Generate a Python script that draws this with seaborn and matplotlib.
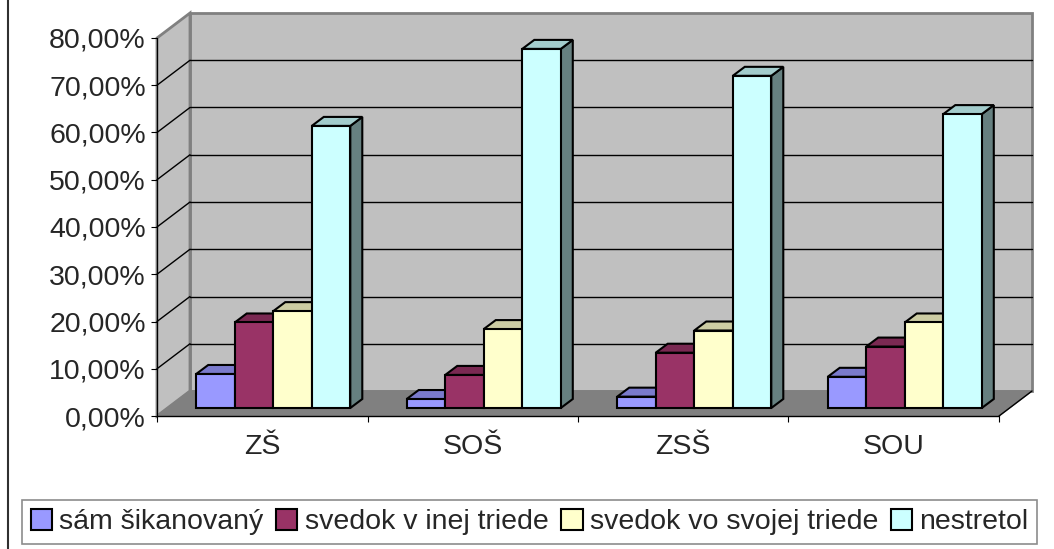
import numpy as np
import pandas as pd
import matplotlib
matplotlib.use("Agg")
import matplotlib.pyplot as plt
import seaborn as sns
from matplotlib.patches import Polygon
from matplotlib.lines import Line2D
from matplotlib.colors import to_rgb

# data (percent)
categories = ["ZŠ", "SOŠ", "ZSŠ", "SOU"]
series = ["sám šikanovaný", "svedok v inej triede", "svedok vo svojej triede", "nestretol"]
sam_sikanovany = [7.2, 1.9, 2.4, 6.6]
svedok_ina = [18.1, 7.0, 11.7, 13.0]
svedok_svoja = [20.5, 16.7, 16.4, 18.1]
nestretol = [59.7, 76.0, 70.3, 62.2]
y_ticks = [0, 10, 20, 30, 40, 50, 60, 70, 80]

colors = ["#9999FF", "#993366", "#FFFFCC", "#CCFFFF"]

df = pd.DataFrame({
    "skola": categories * 4,
    "skupina": np.repeat(series, len(categories)),
    "podiel": sam_sikanovany + svedok_ina + svedok_svoja + nestretol,
})

sns.set_style("white")
plt.rcParams["font.family"] = ["Liberation Sans", "DejaVu Sans"]

W, H = 1054, 549
fig = plt.figure(figsize=(W / 100, H / 100), dpi=100)
# front plane of the 3D box in pixels
x0, x1, y0, y1 = 157, 999, 416, 38
ax = fig.add_axes([x0 / W, (H - y0) / H, (x1 - x0) / W, (y0 - y1) / H])
ax.set_facecolor("none")

ax = sns.barplot(data=df, x="skola", y="podiel", hue="skupina", hue_order=series,
                 order=categories, palette=colors, width=0.732, edgecolor="black",
                 linewidth=1.5, saturation=1, ax=ax, zorder=3)
ax.set_xlim(-0.5, 3.5)
ax.set_ylim(0, 80)

px_x = (x1 - x0) / 4.0        # pixels per category unit
px_y = (y0 - y1) / 80.0       # pixels per percent
Dx, Dy = 33 / px_x, 25 / px_y  # depth of the box
sx, sy = 11 / px_x, 8 / px_y   # bars sit a bit back from front
bdx, bdy = 12 / px_x, 9 / px_y # depth of one bar

bars = list(ax.patches)
for i, p in enumerate(bars):
    p.set_x(p.get_x() + sx)
    p.set_y(p.get_y() + sy)
    p.set_zorder(3)

# 3D faces, drawn left to right so nearer tops cover neighbours' sides
order = sorted(range(len(bars)), key=lambda k: bars[k].get_x())
for k in order:
    p = bars[k]
    c = np.array(to_rgb(p.get_facecolor()))
    x, y, w, h = p.get_x(), p.get_y(), p.get_width(), p.get_height()
    side = Polygon([(x + w, y), (x + w + bdx, y + bdy), (x + w + bdx, y + h + bdy), (x + w, y + h)],
                   closed=True, facecolor=c * 0.5, edgecolor="black", lw=1.5, zorder=2.5, clip_on=False)
    top = Polygon([(x, y + h), (x + w, y + h), (x + w + bdx, y + h + bdy), (x + bdx, y + h + bdy)],
                  closed=True, facecolor=c * 0.8, edgecolor="black", lw=1.5, zorder=2.5, clip_on=False)
    ax.add_patch(side)
    ax.add_patch(top)

# walls and floor
L, R = -0.5, 3.5
back = Polygon([(L + Dx, Dy), (R + Dx, Dy), (R + Dx, 80 + Dy), (L + Dx, 80 + Dy)],
               facecolor="#C0C0C0", edgecolor="#808080", lw=2, zorder=0.5, clip_on=False)
side_wall = Polygon([(L, 0), (L + Dx, Dy), (L + Dx, 80 + Dy), (L, 80)],
                    facecolor="#C0C0C0", edgecolor="#808080", lw=2, zorder=0.5, clip_on=False)
floor = Polygon([(L, 0), (R, 0), (R + Dx, Dy), (L + Dx, Dy)],
                facecolor="#808080", edgecolor="#808080", lw=1, zorder=0.7, clip_on=False)
ax.add_patch(back)
ax.add_patch(side_wall)
ax.add_patch(floor)
for v in y_ticks[1:-1]:
    ax.plot([L + Dx, R + Dx], [v + Dy, v + Dy], color="black", lw=1, zorder=0.6, clip_on=False)
    ax.plot([L, L + Dx], [v, v + Dy], color="black", lw=1, zorder=0.6, clip_on=False)
ax.plot([L, R], [0, 0], color="black", lw=1, zorder=0.8, clip_on=False)
ax.plot([R, R + Dx], [0, Dy], color="black", lw=1, zorder=0.8, clip_on=False)

# axes
for s in ["top", "right", "bottom"]:
    ax.spines[s].set_visible(False)
ax.spines["left"].set_color("black")
ax.spines["left"].set_linewidth(0.8)
ax.set_yticks(y_ticks)
ax.set_yticklabels([f"{v:.2f}".replace(".", ",") + "%" for v in y_ticks], fontsize=20.5)
ax.tick_params(axis="y", length=4.5, width=0.8, pad=3.6, color="black", left=True)
ax.set_xticks([L, 0.5, 1.5, 2.5, R], minor=True)
ax.tick_params(axis="x", which="minor", length=4.5, width=0.8, color="black", bottom=True)
ax.tick_params(axis="x", which="major", length=0, pad=13, labelsize=20.5)
ax.set_xlabel("")
ax.set_ylabel("")

# legend at the bottom
handles, labels = ax.get_legend_handles_labels()
ax.get_legend().remove()
leg = fig.legend(handles, labels, loc="center", bbox_to_anchor=(529.5 / W, (H - 522) / H),
                 ncol=4, fontsize=20.5, frameon=True, fancybox=False, edgecolor="#707070",
                 handlelength=0.75, handleheight=0.75, handletextpad=0.25, columnspacing=0.45,
                 borderpad=0.3, borderaxespad=0)
leg.get_frame().set_linewidth(1.2)

fig.add_artist(Line2D([7.5 / W, 7.5 / W], [0, 1], color="#303030", lw=1.5))

fig.savefig("out.png", dpi=100)
